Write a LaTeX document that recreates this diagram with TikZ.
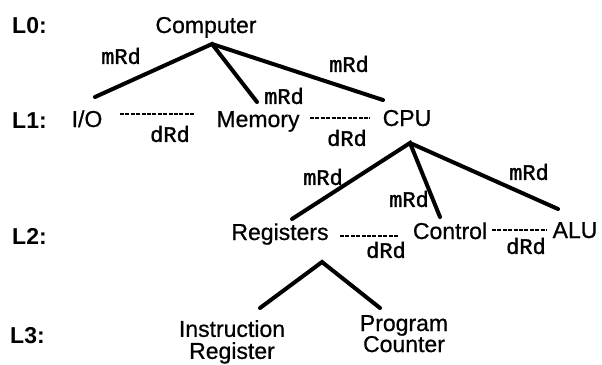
\documentclass[tikz,border=0pt]{standalone}
\usepackage{fontspec}
\setmainfont{Liberation Sans}
\newfontfamily\nodefont[FakeBold=0.7]{Liberation Sans}
\newfontfamily\labfont[FakeBold=1.6]{Liberation Mono}
\usetikzlibrary{calc}
\begin{document}
\begin{tikzpicture}[x=1pt,y=-1pt,
  txt/.style={font=\nodefont\fontsize{23}{26}\selectfont, inner sep=0pt, anchor=base},
  lvl/.style={font=\fontsize{23}{26}\selectfont\bfseries, inner sep=0pt, anchor=base west},
  rel/.style={font=\labfont\fontsize{22}{24}\selectfont, inner sep=0pt},
  tree/.style={line width=4pt, line cap=round},
  dline/.style={line width=1.5pt, dash pattern=on 4pt off 1.4pt}]
\useasboundingbox (0,0) rectangle (602,364);
% level labels
\node[lvl] (l0) at (12,33) {L0:};
\node[lvl] (l1) at (12,128) {L1:};
\node[lvl] (l2) at (12,244) {L2:};
\node[lvl] (l3) at (10,343) {L3:};
% nodes
\node[txt] (comp) at (206,33) {Computer};
\node[txt] (io) at (87,127) {I/O};
\node[txt] (mem) at (258,127) {Memory};
\node[txt] (cpu) at (407,126) {CPU};
\node[txt] (reg) at (280,240) {Registers};
\node[txt] (ctl) at (450,239) {Control};
\node[txt] (alu) at (575,238) {ALU};
\node[txt, anchor=north, align=center, font=\nodefont\fontsize{23}{22}\selectfont] (ir) at (232,320) {Instruction\\Register};
\node[txt, anchor=north, align=center, font=\nodefont\fontsize{23}{21}\selectfont] (pc) at (404,315) {Program\\Counter};
% apex points
\coordinate (compA) at (212,44);
\coordinate (cpuA) at (410,143);
\coordinate (regA) at (322,262);
% branch ends
\coordinate (ioE) at (95,97);
\coordinate (memE) at (257,102);
\coordinate (cpuE) at (383,100);
\coordinate (regE) at (292,219);
\coordinate (ctlE) at (440,217);
\coordinate (aluE) at (558,209);
\coordinate (irE) at (260,308);
\coordinate (pcE) at (380,308);
% tree connectors
\draw[tree] (ioE) -- (compA) -- (memE);
\draw[tree] (compA) -- (cpuE);
\draw[tree] (regE) -- (cpuA) -- (ctlE);
\draw[tree] (cpuA) -- (aluE);
\draw[tree] (irE) -- (regA) -- (pcE);
% dRd connectors
\draw[dline] (120,114) -- (195,114);
\draw[dline] (310,118) -- (370,118);
\draw[dline] (340,236) -- (399,236);
\draw[dline] (492,230) -- (547,230);
% relation labels
\node[rel] (m1) at (121,56) {mRd};
\node[rel] (m2) at (284,96) {mRd};
\node[rel] (m3) at (349,64) {mRd};
\node[rel] (m4) at (323,177) {mRd};
\node[rel] (m5) at (409,199) {mRd};
\node[rel] (m6) at (529,172) {mRd};
\node[rel] (d1) at (170,134) {dRd};
\node[rel] (d2) at (347,138) {dRd};
\node[rel] (d3) at (386,250) {dRd};
\node[rel] (d4) at (526,246) {dRd};
\end{tikzpicture}
\end{document}
